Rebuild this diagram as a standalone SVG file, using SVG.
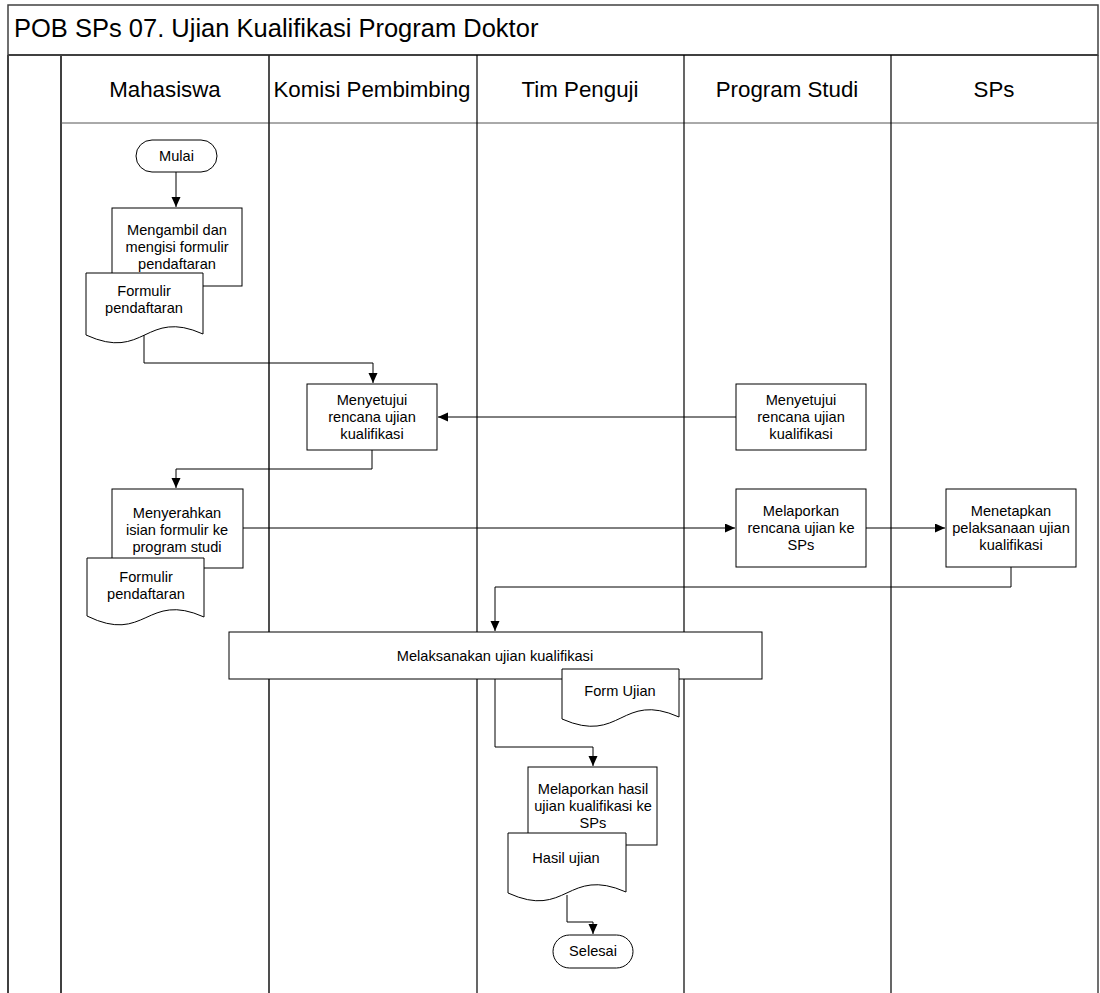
<svg xmlns="http://www.w3.org/2000/svg" width="1100" height="993" viewBox="0 0 1100 993">
<style>
text{font-family:"Liberation Sans",Arial,sans-serif;fill:#000}
.t{font-size:14.6px;text-anchor:middle}
.h{font-size:22.3px;text-anchor:middle}
.box{fill:#fff;stroke:#000;stroke-width:1}
.frame{fill:none;stroke:#404040;stroke-width:2}
.lane{stroke:#000;stroke-width:1.2;fill:none}
.con{fill:none;stroke:#000;stroke-width:1}
</style>
<defs>
<marker id="arr" markerUnits="userSpaceOnUse" markerWidth="11" markerHeight="10" refX="10" refY="4.5" orient="auto">
<path d="M0,0 L10,4.5 L0,9 z" fill="#000"/>
</marker>
</defs>
<rect width="1100" height="993" fill="#fff"/>
<g id="pool">
<rect x="8" y="5" width="1090" height="50" fill="#fff" stroke="#404040" stroke-width="1.5"/>
<text x="14" y="37" style="font-size:25.5px">POB SPs 07. Ujian Kualifikasi Program Doktor</text>
<line x1="8" y1="55" x2="8" y2="993" class="frame"/>
<line x1="1098" y1="55" x2="1098" y2="993" stroke="#404040" stroke-width="1.5"/>
<line x1="61" y1="55" x2="61" y2="993" class="frame"/>
<line x1="8" y1="55" x2="1098" y2="55" class="frame"/>
<line x1="61" y1="123" x2="1098" y2="123" stroke="#555" stroke-width="1"/>
<line x1="269" y1="55" x2="269" y2="993" stroke="#222" stroke-width="1.6"/>
<line x1="477" y1="55" x2="477" y2="993" class="lane"/>
<line x1="684" y1="55" x2="684" y2="993" class="lane"/>
<line x1="891" y1="55" x2="891" y2="993" class="lane"/>
<text class="h" x="165" y="97">Mahasiswa</text>
<text class="h" x="372" y="97">Komisi Pembimbing</text>
<text class="h" x="580" y="97">Tim Penguji</text>
<text class="h" x="787" y="97">Program Studi</text>
<text class="h" x="994" y="97">SPs</text>
</g>
<g id="connectors">
<path class="con" d="M176,172 V207" marker-end="url(#arr)"/>
<path class="con" d="M144,335 V363 H373 V383" marker-end="url(#arr)"/>
<path class="con" d="M736,417 H438" marker-end="url(#arr)"/>
<path class="con" d="M372,450 V469 H176 V488" marker-end="url(#arr)"/>
<path class="con" d="M243,528 H735" marker-end="url(#arr)"/>
<path class="con" d="M866,528 H945" marker-end="url(#arr)"/>
<path class="con" d="M1011,567 V587 H495 V631" marker-end="url(#arr)"/>
<path class="con" d="M495,679 V747 H593 V766" marker-end="url(#arr)"/>
<path class="con" d="M567,895 V922 H593 V934" marker-end="url(#arr)"/>
</g>
<g id="mulai">
<rect class="box" x="136" y="140" width="81" height="32" rx="16"/>
<text class="t" x="176.5" y="161">Mulai</text>
</g>
<g id="p1">
<rect class="box" x="112" y="208" width="130" height="78"/>
<text class="t" x="177" y="235">Mengambil dan</text>
<text class="t" x="177" y="252">mengisi formulir</text>
<text class="t" x="177" y="269">pendaftaran</text>
</g>
<g id="d1">
<path class="box" d="M86,273 H203 V334 C145,308 145,362 86,335 Z"/>
<text class="t" x="144" y="296">Formulir</text>
<text class="t" x="144" y="313">pendaftaran</text>
</g>
<g id="p2">
<rect class="box" x="307" y="384" width="130" height="66"/>
<text class="t" x="372" y="405">Menyetujui</text>
<text class="t" x="372" y="422">rencana ujian</text>
<text class="t" x="372" y="439">kualifikasi</text>
</g>
<g id="p3">
<rect class="box" x="736" y="384" width="130" height="66"/>
<text class="t" x="801" y="405">Menyetujui</text>
<text class="t" x="801" y="422">rencana ujian</text>
<text class="t" x="801" y="439">kualifikasi</text>
</g>
<g id="p4">
<rect class="box" x="112" y="489" width="131" height="79"/>
<text class="t" x="177" y="518">Menyerahkan</text>
<text class="t" x="177" y="535">isian formulir ke</text>
<text class="t" x="177" y="552">program studi</text>
</g>
<g id="d2">
<path class="box" d="M87,558 H204 V617 C146,591 146,645 87,616 Z"/>
<text class="t" x="146" y="582">Formulir</text>
<text class="t" x="146" y="599">pendaftaran</text>
</g>
<g id="p5">
<rect class="box" x="736" y="489" width="130" height="78"/>
<text class="t" x="801" y="516">Melaporkan</text>
<text class="t" x="801" y="533">rencana ujian ke</text>
<text class="t" x="801" y="550">SPs</text>
</g>
<g id="p6">
<rect class="box" x="946" y="489" width="130" height="78"/>
<text class="t" x="1011" y="516">Menetapkan</text>
<text class="t" x="1011" y="533">pelaksanaan ujian</text>
<text class="t" x="1011" y="550">kualifikasi</text>
</g>
<g id="p7">
<rect class="box" x="229" y="632" width="533" height="47"/>
<text class="t" x="495" y="661">Melaksanakan ujian kualifikasi</text>
</g>
<g id="d3">
<path class="box" d="M562,669 H679 V717 C621,691 621,745 562,719 Z"/>
<text class="t" x="620" y="696">Form Ujian</text>
</g>
<g id="p8">
<rect class="box" x="528" y="767" width="129" height="78"/>
<text class="t" x="593" y="794">Melaporkan hasil</text>
<text class="t" x="593" y="811">ujian kualifikasi ke</text>
<text class="t" x="593" y="828">SPs</text>
</g>
<g id="d4">
<path class="box" d="M508,833 H626 V892 C567,866 567,920 508,893 Z"/>
<text class="t" x="566" y="863">Hasil ujian</text>
</g>
<g id="selesai">
<rect class="box" x="553" y="935" width="80" height="33" rx="16.5"/>
<text class="t" x="593" y="956">Selesai</text>
</g>
</svg>
